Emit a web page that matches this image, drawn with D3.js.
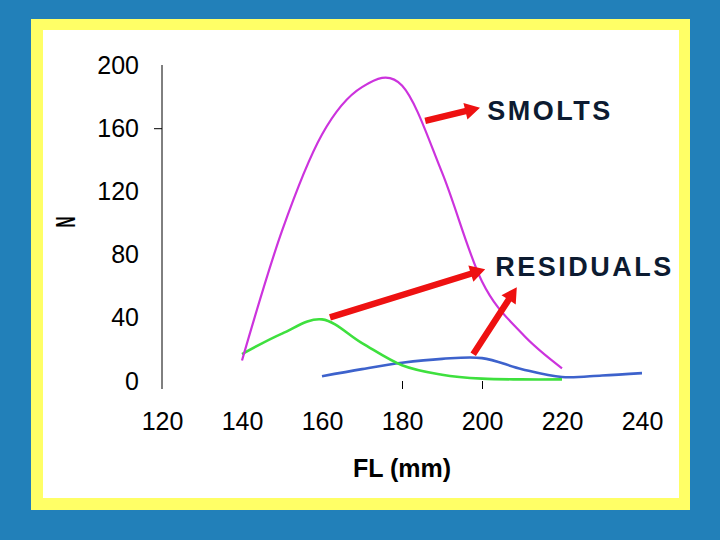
<!DOCTYPE html>
<html>
<head>
<meta charset="utf-8">
<script src="https://cdn.jsdelivr.net/npm/d3@7"></script>
<style>
  html, body { margin: 0; padding: 0; background: #2280b9; }
  svg { display: block; }
  text { font-family: "Liberation Sans", Arial, sans-serif; }
</style>
</head>
<body>
<svg id="chart" width="720" height="540"></svg>
<script>
// ---- data ----
const flTicks = [120, 140, 160, 180, 200, 220, 240];
const nTicks = [0, 40, 80, 120, 160, 200];

const smoltsFL = [140, 150, 160, 170, 180, 190, 200, 210, 220];
const smoltsN  = [13, 95, 156, 186, 187, 132, 63, 30, 8];

const residualsAFL = [140, 150, 160, 170, 180, 190, 200, 210, 220];
const residualsAN  = [17, 30, 39, 24, 10, 4, 1.5, 1, 1];

const residualsBFL = [160, 170, 180, 190, 200, 210, 220, 230, 240];
const residualsBN  = [3, 7.5, 11.5, 14, 14.5, 7.5, 2.5, 3.5, 5];

// annotation arrows in data units: [FL, N]
const arrowFrom = [[185.8, 164.6], [162.0, 40.3], [197.8, 17.0]];
const arrowTo   = [[199.5, 173.0], [200.8, 70.7], [208.7, 59.3]];
const labelText = ["SMOLTS", "RESIDUALS"];
const labelPos  = [[201.3, 165.0], [203.3, 66.4]];

// ---- drawing ----
const svg = d3.select("#chart");

// slide frame
svg.append("rect").attr("x", 0).attr("y", 0).attr("width", 720).attr("height", 540).attr("fill", "#2280b9");
svg.append("rect").attr("x", 31).attr("y", 19).attr("width", 659).attr("height", 491).attr("fill", "#ffff66");
svg.append("rect").attr("x", 43).attr("y", 30).attr("width", 636).attr("height", 468).attr("fill", "#ffffff");

const x = d3.scaleLinear().domain([120, 240]).range([162, 642]);
const y = d3.scaleLinear().domain([0, 200]).range([381, 65]);

// y axis line (extends slightly below zero)
svg.append("line")
  .attr("x1", x(120)).attr("x2", x(120))
  .attr("y1", y(200)).attr("y2", y(0) + 8)
  .attr("stroke", "#000").attr("stroke-width", 1);

// y tick mark (only 160 visible in the reference)
svg.append("g")
  .attr("transform", `translate(${x(120)},0)`)
  .call(d3.axisLeft(y).tickValues([160]).tickSize(8).tickFormat(""))
  .call(g => g.select(".domain").remove())
  .selectAll("line").attr("stroke", "#000");

// y tick labels
svg.append("g")
  .attr("transform", `translate(${x(120)},0)`)
  .call(d3.axisLeft(y).tickValues(nTicks).tickSize(0).tickPadding(23))
  .call(g => g.select(".domain").remove())
  .selectAll("text")
  .attr("font-size", 25).attr("fill", "#000")
  .style("font-family", '"Liberation Sans", Arial, sans-serif');

// x tick marks (only 180, 200 visible)
svg.append("g")
  .attr("transform", `translate(0,${y(0)})`)
  .call(d3.axisBottom(x).tickValues([180, 200]).tickSize(8).tickFormat(""))
  .call(g => g.select(".domain").remove())
  .selectAll("line").attr("stroke", "#000");

// x tick labels
svg.append("g")
  .attr("transform", `translate(0,${y(0)})`)
  .call(d3.axisBottom(x).tickValues(flTicks).tickSize(0).tickPadding(31))
  .call(g => g.select(".domain").remove())
  .selectAll("text")
  .attr("font-size", 25).attr("fill", "#000")
  .style("font-family", '"Liberation Sans", Arial, sans-serif');

// axis titles
svg.append("text")
  .attr("transform", "translate(75,222) rotate(-90) scale(0.55,1)")
  .attr("text-anchor", "middle")
  .attr("font-size", 28).attr("font-weight", "bold").attr("fill", "#000")
  .text("N");

svg.append("text")
  .attr("x", 402).attr("y", 477)
  .attr("text-anchor", "middle")
  .attr("font-size", 25).attr("font-weight", "bold").attr("fill", "#000")
  .text("FL (mm)");

// curves
const line = d3.line()
  .x(d => x(d[0])).y(d => y(d[1]))
  .curve(d3.curveCatmullRom.alpha(0));

const series = [
  { fl: residualsBFL, n: residualsBN, color: "#3d62cc", w: 2.6 },
  { fl: residualsAFL, n: residualsAN, color: "#3ee03e", w: 2.6 },
  { fl: smoltsFL, n: smoltsN, color: "#cc33dd", w: 2.2 }
];
series.forEach(s => {
  svg.append("path")
    .datum(d3.zip(s.fl, s.n))
    .attr("d", line)
    .attr("fill", "none")
    .attr("stroke", s.color)
    .attr("stroke-width", s.w)
    .attr("stroke-linejoin", "round");
});

// red arrows
function arrowPath(x1, y1, x2, y2) {
  const dx = x2 - x1, dy = y2 - y1;
  const L = Math.hypot(dx, dy);
  const ux = dx / L, uy = dy / L, nx = -uy, ny = ux;
  const sw = 3.2, hl = 15, hw = 8.5;
  const bx = x2 - ux * hl, by = y2 - uy * hl;
  const pts = [
    [x1 + nx * sw, y1 + ny * sw],
    [bx + nx * sw, by + ny * sw],
    [bx + nx * hw, by + ny * hw],
    [x2, y2],
    [bx - nx * hw, by - ny * hw],
    [bx - nx * sw, by - ny * sw],
    [x1 - nx * sw, y1 - ny * sw]
  ];
  return "M" + pts.map(p => p.join(",")).join("L") + "Z";
}
arrowFrom.forEach((f, i) => {
  const t = arrowTo[i];
  svg.append("path")
    .attr("d", arrowPath(x(f[0]), y(f[1]), x(t[0]), y(t[1])))
    .attr("fill", "#ee1111");
});

// labels
labelText.forEach((t, i) => {
  svg.append("text")
    .attr("x", x(labelPos[i][0])).attr("y", y(labelPos[i][1]))
    .attr("font-size", 27).attr("font-weight", "bold")
    .attr("letter-spacing", 2.5)
    .attr("fill", "#0c1b31")
    .text(t);
});
</script>
</body>
</html>
